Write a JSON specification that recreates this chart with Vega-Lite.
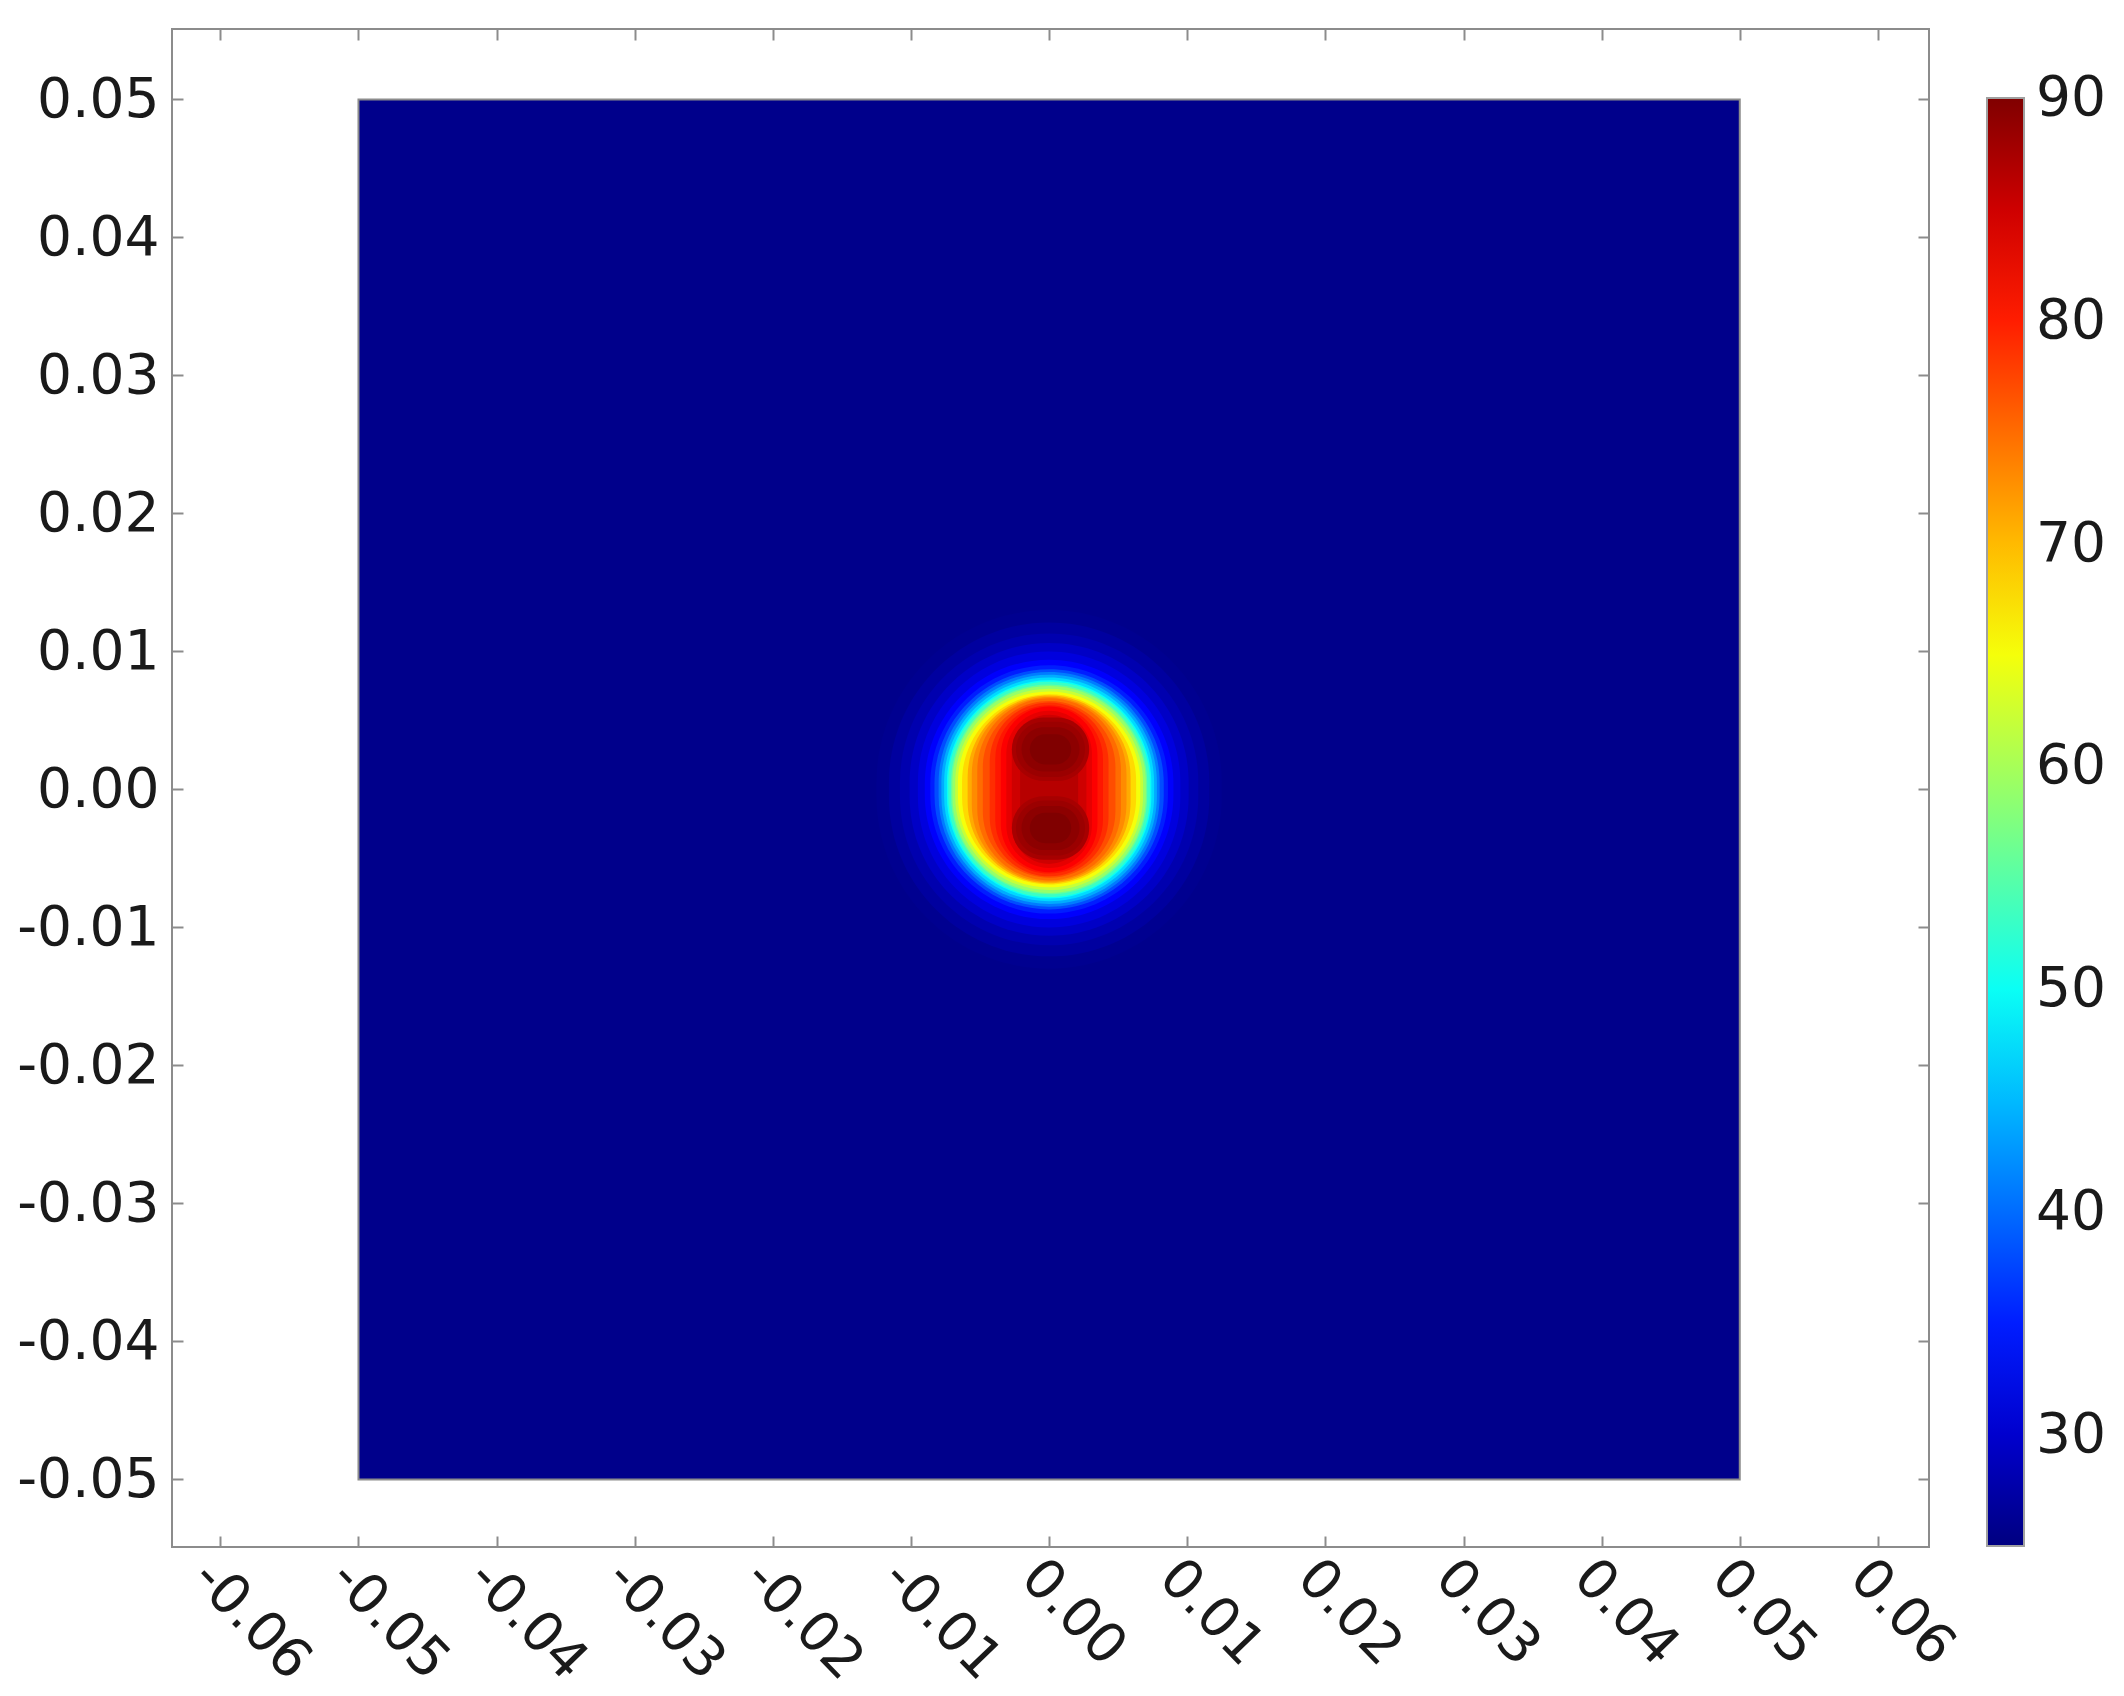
{
  "$schema": "https://vega.github.io/schema/vega-lite/v6.json",
  "width": 1757,
  "height": 1518,
  "autosize": {"type": "none"},
  "padding": {"left": 172, "top": 29, "right": 195, "bottom": 149},
  "background": "white",
  "config": {
    "view": {"stroke": "#8c8c8c", "strokeWidth": 2},
    "font": "DejaVu Sans",
    "axis": {
      "labelFont": "DejaVu Sans",
      "labelFontSize": 55,
      "labelColor": "#1a1a1a",
      "labelOverlap": false,
      "domain": false,
      "grid": false,
      "tickColor": "#8c8c8c",
      "tickWidth": 2,
      "tickSize": -11,
      "title": null
    },
    "locale": {"number": {"decimal": ".", "thousands": ",", "grouping": [3], "currency": ["", ""], "minus": "-"}}
  },
  "datasets": {
    "plate": [
      {"x": -0.05, "x2": 0.05, "y": -0.05, "y2": 0.05, "t": 25.7}
    ],
    "iso": [
      {"t": 26, "x": -0.0125, "x2": 0.0125, "y": -0.013, "y2": 0.013},
      {"t": 27, "x": -0.0116, "x2": 0.0116, "y": -0.0121, "y2": 0.0121},
      {"t": 28, "x": -0.0108, "x2": 0.0108, "y": -0.0113, "y2": 0.0113},
      {"t": 29.5, "x": -0.0101, "x2": 0.0101, "y": -0.0106, "y2": 0.0106},
      {"t": 31, "x": -0.0095, "x2": 0.0095, "y": -0.01, "y2": 0.01},
      {"t": 33, "x": -0.009, "x2": 0.009, "y": -0.0094, "y2": 0.0094},
      {"t": 35, "x": -0.0086, "x2": 0.0086, "y": -0.009, "y2": 0.009},
      {"t": 38, "x": -0.0083, "x2": 0.0083, "y": -0.0087, "y2": 0.0087},
      {"t": 41, "x": -0.008, "x2": 0.008, "y": -0.0085, "y2": 0.0085},
      {"t": 44, "x": -0.0078, "x2": 0.0078, "y": -0.0083, "y2": 0.0083},
      {"t": 47, "x": -0.0076, "x2": 0.0076, "y": -0.0081, "y2": 0.0081},
      {"t": 50, "x": -0.0074, "x2": 0.0074, "y": -0.0079, "y2": 0.0079},
      {"t": 53, "x": -0.0073, "x2": 0.0073, "y": -0.0078, "y2": 0.0078},
      {"t": 56, "x": -0.0071, "x2": 0.0071, "y": -0.0076, "y2": 0.0076},
      {"t": 59, "x": -0.007, "x2": 0.007, "y": -0.0075, "y2": 0.0075},
      {"t": 62, "x": -0.0068, "x2": 0.0068, "y": -0.0073, "y2": 0.0073},
      {"t": 65, "x": -0.0066, "x2": 0.0066, "y": -0.0071, "y2": 0.0071},
      {"t": 68, "x": -0.0063, "x2": 0.0063, "y": -0.0069, "y2": 0.0069},
      {"t": 71, "x": -0.0059, "x2": 0.0059, "y": -0.0068, "y2": 0.0068},
      {"t": 73, "x": -0.0056, "x2": 0.0056, "y": -0.0067, "y2": 0.0067},
      {"t": 75, "x": -0.0052, "x2": 0.0052, "y": -0.0066, "y2": 0.0066},
      {"t": 77, "x": -0.0048, "x2": 0.0048, "y": -0.0064, "y2": 0.0064},
      {"t": 79, "x": -0.0043, "x2": 0.0043, "y": -0.0063, "y2": 0.0063},
      {"t": 80.5, "x": -0.0039, "x2": 0.0039, "y": -0.0061, "y2": 0.0061},
      {"t": 82, "x": -0.0035, "x2": 0.0035, "y": -0.006, "y2": 0.006},
      {"t": 83.5, "x": -0.0031, "x2": 0.0031, "y": -0.0057, "y2": 0.0057},
      {"t": 85, "x": -0.0027, "x2": 0.0027, "y": -0.0054, "y2": 0.0054},
      {"t": 86.5, "x": -0.0021, "x2": 0.0021, "y": -0.005, "y2": 0.005},
      {"t": 87.5, "x": -0.0027, "x2": 0.0029, "y": 0.0006, "y2": 0.0052},
      {"t": 87.5, "x": -0.0027, "x2": 0.0029, "y": -0.0051, "y2": -0.0005},
      {"t": 88.3, "x": -0.0024, "x2": 0.0026, "y": 0.0009, "y2": 0.0049},
      {"t": 88.3, "x": -0.0024, "x2": 0.0026, "y": -0.0048, "y2": -0.0008},
      {"t": 89.2, "x": -0.002, "x2": 0.0022, "y": 0.0013, "y2": 0.0045},
      {"t": 89.2, "x": -0.002, "x2": 0.0022, "y": -0.0044, "y2": -0.0012},
      {"t": 90, "x": -0.0014, "x2": 0.0016, "y": 0.0018, "y2": 0.004},
      {"t": 90, "x": -0.0014, "x2": 0.0016, "y": -0.0039, "y2": -0.0017}
    ]
  },
  "encoding": {
    "color": {
      "field": "t",
      "type": "quantitative",
      "scale": {
        "domain": [25, 33.125, 49.375, 65.625, 81.875, 90],
        "range": ["#000080", "#0000ff", "#00ffff", "#ffff00", "#ff0000", "#800000"],
        "interpolate": "rgb"
      },
      "legend": {
        "orient": "none",
        "legendX": 1815,
        "legendY": 69,
        "direction": "vertical",
        "gradientLength": 1448,
        "gradientThickness": 37,
        "gradientStrokeColor": "#a0a0a0",
        "gradientStrokeWidth": 2,
        "title": null,
        "values": [30, 40, 50, 60, 70, 80, 90],
        "labelFont": "DejaVu Sans",
        "labelFontSize": 55,
        "labelColor": "#1a1a1a",
        "labelOffset": 12,
        "labelOverlap": false,
        "padding": 0,
        "encode": {"labels": {"update": {"baseline": {"value": "middle"}}}}
      }
    }
  },
  "layer": [
    {
      "data": {"name": "plate"},
      "mark": {"type": "rect", "stroke": "#8c8c8c", "strokeWidth": 2},
      "encoding": {
        "x": {
          "field": "x",
          "type": "quantitative",
          "scale": {"domain": [-0.0635, 0.0637], "nice": false, "zero": false},
          "axis": {
            "orient": "bottom",
            "values": [-0.06, -0.05, -0.04, -0.03, -0.02, -0.01, 0, 0.01, 0.02, 0.03, 0.04, 0.05, 0.06],
            "format": ".2f",
            "labelAngle": 46,
            "labelAlign": "left",
            "labelBaseline": "top",
            "labelPadding": 14,
            "labelOverlap": false
          }
        },
        "x2": {"field": "x2"},
        "y": {
          "field": "y",
          "type": "quantitative",
          "scale": {"domain": [-0.0549, 0.0551], "nice": false, "zero": false},
          "axis": {
            "orient": "left",
            "values": [-0.05, -0.04, -0.03, -0.02, -0.01, 0, 0.01, 0.02, 0.03, 0.04, 0.05],
            "format": ".2f",
            "labelPadding": 24
          }
        },
        "y2": {"field": "y2"}
      }
    },
    {
      "data": {"name": "iso"},
      "mark": {"type": "rect", "cornerRadius": 10000},
      "encoding": {
        "x": {
          "field": "x",
          "type": "quantitative",
          "axis": {
            "orient": "top",
            "labels": false,
            "values": [-0.06, -0.05, -0.04, -0.03, -0.02, -0.01, 0, 0.01, 0.02, 0.03, 0.04, 0.05, 0.06]
          }
        },
        "x2": {"field": "x2"},
        "y": {
          "field": "y",
          "type": "quantitative",
          "axis": {
            "orient": "right",
            "labels": false,
            "values": [-0.05, -0.04, -0.03, -0.02, -0.01, 0, 0.01, 0.02, 0.03, 0.04, 0.05]
          }
        },
        "y2": {"field": "y2"}
      }
    }
  ],
  "resolve": {"axis": {"x": "independent", "y": "independent"}}
}
